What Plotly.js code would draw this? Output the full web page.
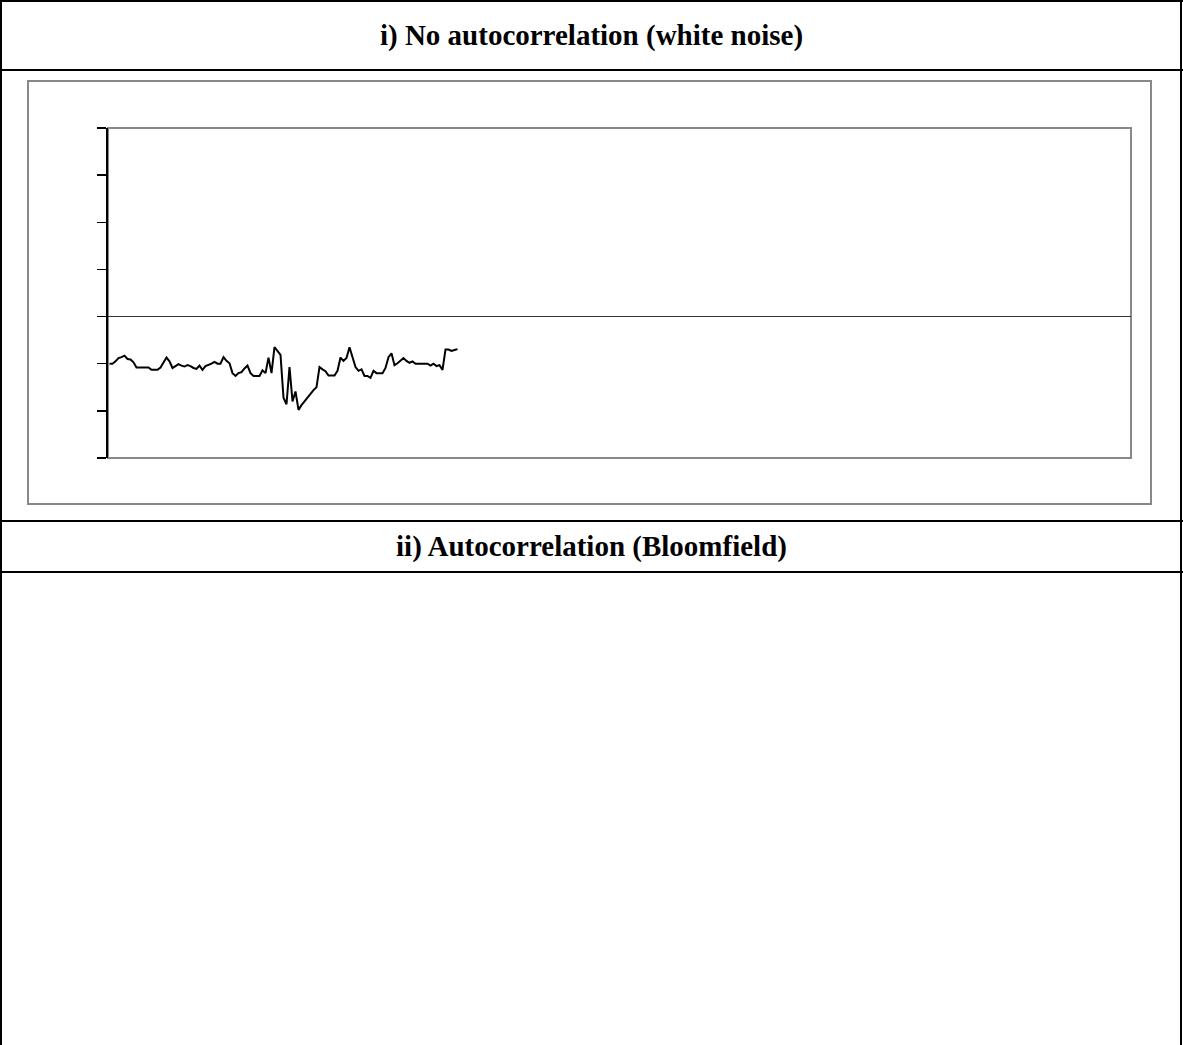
<!DOCTYPE html>
<html>
<head>
<meta charset="utf-8">
<script src="https://cdn.plot.ly/plotly-3.0.1.min.js"></script>
<style>
  html, body { margin: 0; padding: 0; background: #fff; }
  body { width: 1183px; height: 1045px; position: relative; overflow: hidden; }
  .hl { position: absolute; left: 0; width: 1183px; height: 2px; background: #000; }
  .vl { position: absolute; top: 0; width: 2px; height: 1045px; background: #000; }
  .ttl { position: absolute; left: 0; width: 1183px; display: flex; align-items: center; justify-content: center;
         font-family: "Liberation Serif", "Times New Roman", serif; font-weight: bold; font-size: 29px; color: #000; }
  #frame { position: absolute; left: 27px; top: 80px; width: 1125px; height: 425px; box-sizing: border-box;
           border: 2px solid #888; }
  #chart { position: absolute; left: 27px; top: 80px; width: 1125px; height: 425px; }
</style>
</head>
<body>
<div class="hl" style="top:0"></div>
<div class="hl" style="top:69px"></div>
<div class="hl" style="top:520px"></div>
<div class="hl" style="top:571px"></div>
<div class="vl" style="left:0"></div>
<div class="vl" style="left:1180px"></div>
<div class="ttl" id="t1" style="top:2px;height:67px"></div>
<div class="ttl" id="t2" style="top:522px;height:49px"></div>
<div id="frame"></div>
<div id="chart"></div>
<script>
const sectionTitles = ["i) No autocorrelation (white noise)", "ii) Autocorrelation (Bloomfield)"];
const yTicks = [-3, -2, -1, 0, 1, 2, 3, 4];
const nCategories = 341;
const seriesValues = [
  -1.00, -1.00, -0.95, -0.88, -0.86, -0.83, -0.90, -0.91, -0.97, -1.08,
  -1.08, -1.08, -1.08, -1.08, -1.13, -1.13, -1.13, -1.08, -0.96, -0.87,
  -0.95, -1.09, -1.05, -1.01, -1.04, -1.06, -1.03, -1.05, -1.09, -1.11,
  -1.04, -1.13, -1.05, -1.03, -1.00, -0.96, -1.00, -1.00, -0.86, -0.94,
  -0.99, -1.20, -1.26, -1.20, -1.18, -1.10, -1.04, -1.20, -1.26, -1.26,
  -1.26, -1.14, -1.20, -0.87, -1.20, -0.65, -0.74, -0.81, -1.72, -1.86,
  -1.07, -1.80, -1.59, -1.98, -1.88, -1.80, -1.71, -1.64, -1.56, -1.50,
  -1.07, -1.12, -1.16, -1.25, -1.25, -1.25, -1.15, -0.87, -0.94, -0.88,
  -0.65, -0.85, -1.07, -1.15, -1.12, -1.26, -1.26, -1.30, -1.15, -1.20,
  -1.20, -1.20, -1.09, -0.86, -0.78, -1.03, -0.99, -0.94, -0.88, -0.94,
  -0.98, -0.95, -1.00, -1.00, -1.00, -1.00, -1.00, -1.04, -1.00, -1.05,
  -1.03, -1.13, -0.70, -0.70, -0.73, -0.71, -0.69
];
const periods = seriesValues.map((v, i) => i);

document.getElementById('t1').textContent = sectionTitles[0];
document.getElementById('t2').textContent = sectionTitles[1];

const trace = {
  type: 'scatter', mode: 'lines', x: periods, y: seriesValues,
  line: { color: '#000', width: 2 }, hoverinfo: 'skip', showlegend: false
};

const layout = {
  width: 1125, height: 425,
  margin: { l: 81, r: 21, t: 48, b: 47, pad: 0 },
  paper_bgcolor: 'rgba(0,0,0,0)', plot_bgcolor: 'rgba(0,0,0,0)',
  showlegend: false,
  xaxis: { range: [-0.5, nCategories - 0.5], showticklabels: false, ticks: '', showgrid: false,
           zeroline: false, showline: false, fixedrange: true },
  yaxis: { range: [yTicks[0], yTicks[yTicks.length - 1]], tickmode: 'array', tickvals: yTicks,
           showticklabels: false, ticks: 'outside', ticklen: 9, tickwidth: 1.5, tickcolor: '#000',
           showgrid: false, zeroline: true, zerolinecolor: '#333', zerolinewidth: 1,
           showline: true, linecolor: '#000', linewidth: 2, fixedrange: true },
  shapes: [
    { type: 'rect', xref: 'paper', yref: 'paper', x0: 0, x1: 1, y0: 0, y1: 1,
      line: { color: '#888', width: 2 }, layer: 'below' }
  ]
};

Plotly.newPlot('chart', [trace], layout, { staticPlot: true, displayModeBar: false });
</script>
</body>
</html>
